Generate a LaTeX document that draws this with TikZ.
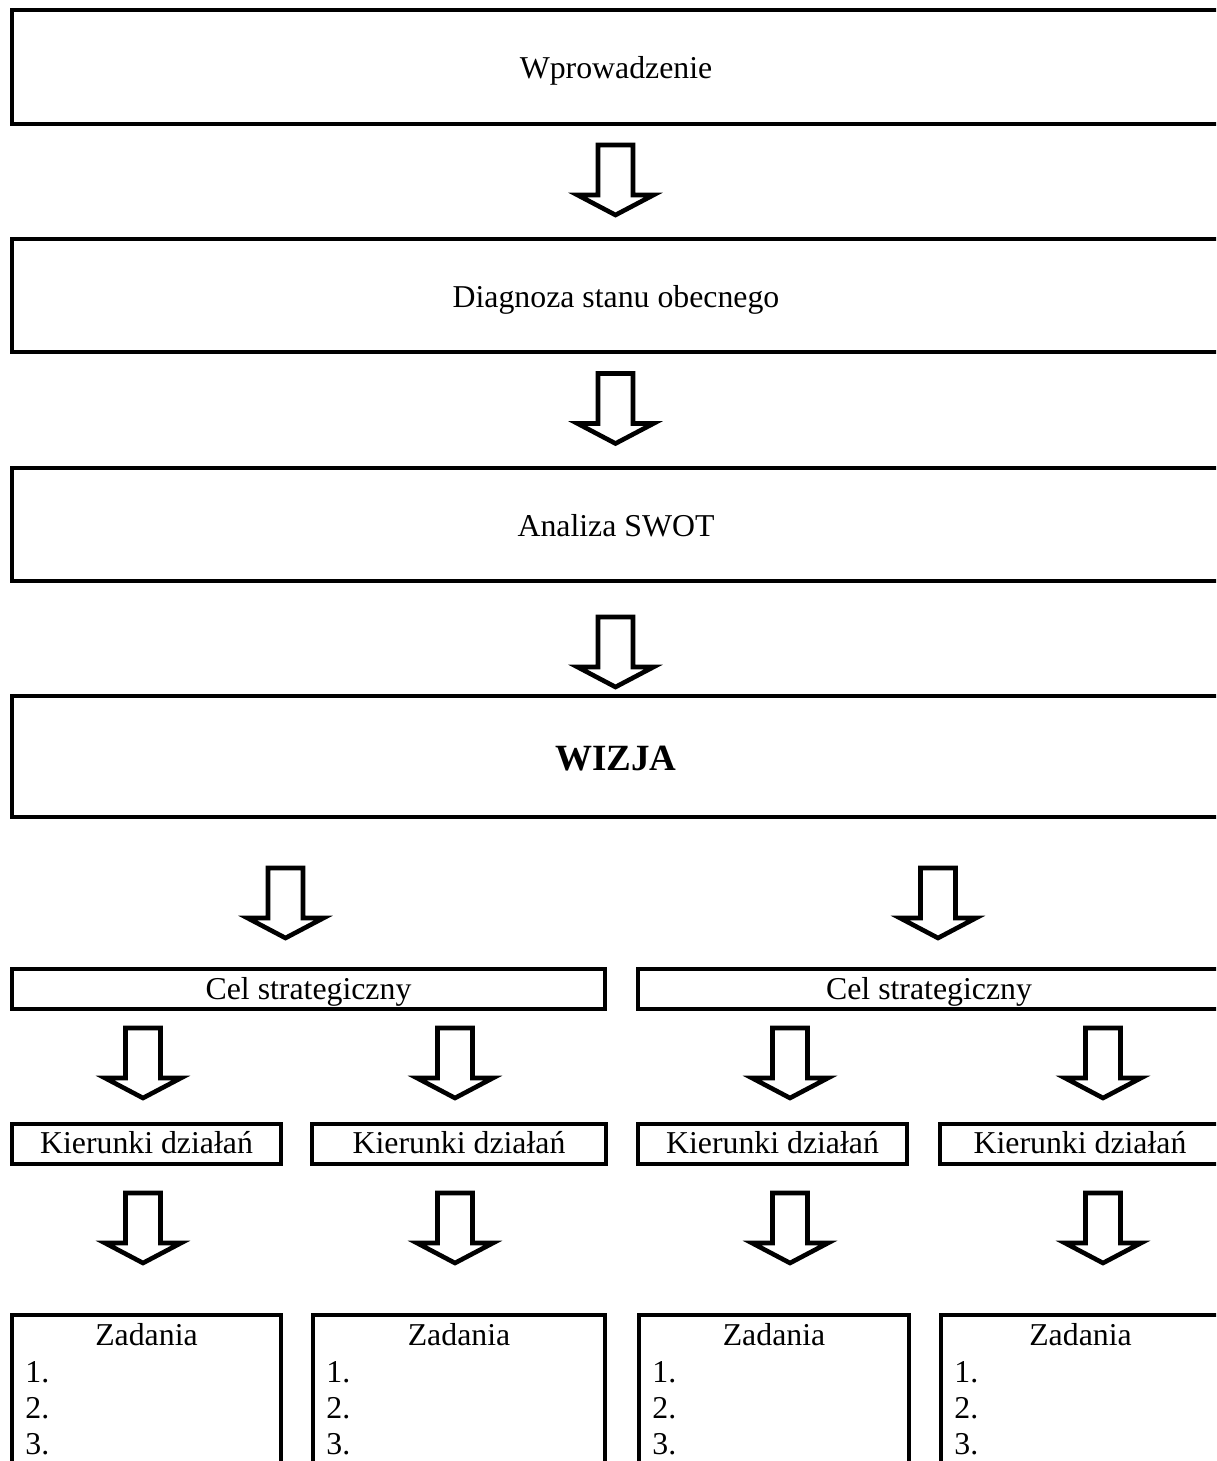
\documentclass[tikz,border=0pt]{standalone}
\usepackage{fontspec}
\setmainfont{Liberation Serif}
\usetikzlibrary{calc}
\begin{document}
\begin{tikzpicture}[x=0.5pt,y=-0.5pt,
  boxline/.style={draw=black, line width=2pt, line join=miter},
  basebox/.style={boxline, inner sep=0pt, outer sep=0pt, text depth=0pt,
    font=\fontsize{15.9pt}{19pt}\selectfont},
  bigbox/.style={basebox, minimum width=604pt, text height=12pt},
  celbox/.style={basebox, minimum height=20pt, text height=10pt},
  kbox/.style={basebox, minimum height=20pt, text height=9pt},
  zbox/.style={basebox, minimum height=82.5pt},
  ztxt/.style={inner sep=0pt, font=\fontsize{15.9pt}{19pt}\selectfont},
  arrowline/.style={draw=black, fill=white, line width=2.3pt, line join=miter},
  barrow/.pic={\path[arrowline] (-17.5,0) -- (17.5,0) -- (17.5,50) -- (38,50) -- (0,70) -- (-38,50) -- (-17.5,50) -- cycle;}
]
\useasboundingbox (0,0) rectangle (1216,1461);
\clip (0,0) rectangle (1216,1461);

% main boxes
\node[bigbox, minimum height=57pt] (b1) at (616,67) {Wprowadzenie};
\node[bigbox, minimum height=56.5pt] (b2) at (616,295.5) {Diagnoza stanu obecnego};
\node[bigbox, minimum height=56.5pt] (b3) at (616,524.5) {Analiza SWOT};
\node[bigbox, minimum height=60.5pt, text height=14pt,
      font=\fontsize{18.5pt}{22pt}\selectfont\bfseries] (b4) at (616,756.5) {WIZJA};

% strategic goals
\node[celbox, minimum width=296.5pt] (c1) at (308.5,989) {Cel strategiczny};
\node[celbox, minimum width=291pt] (c2) at (929,989) {Cel strategiczny};

% directions
\node[kbox, minimum width=134.5pt] (k1) at (146.5,1144) {Kierunki działań};
\node[kbox, minimum width=147pt] (k2) at (459,1144) {Kierunki działań};
\node[kbox, minimum width=134.5pt] (k3) at (772.5,1144) {Kierunki działań};
\node[kbox, minimum width=140pt] (k4) at (1080,1144) {Kierunki działań};

% tasks
\node[zbox, minimum width=134.5pt] (z1) at (146.5,1397.5) {};
\node[zbox, minimum width=146pt] (z2) at (459,1397.5) {};
\node[zbox, minimum width=135pt] (z3) at (774,1397.5) {};
\node[zbox, minimum width=139.5pt] (z4) at (1080.5,1397.5) {};
\foreach \z in {z1,z2,z3,z4}{
  \node[ztxt, anchor=base] (\z t) at ($(\z.north)+(0,30)$) {Zadania};
  \node[ztxt, anchor=base west] (\z a) at ($(\z.north west)+(13,67)$) {1.};
  \node[ztxt, anchor=base west] (\z b) at ($(\z.north west)+(13,103)$) {2.};
  \node[ztxt, anchor=base west] (\z c) at ($(\z.north west)+(13,139)$) {3.};
}

% block arrows
\pic at ($(b1.south)+(-0.5,21)$) {barrow};
\pic at ($(b2.south)+(-0.5,21.5)$) {barrow};
\pic at ($(b3.south)+(-0.5,36)$) {barrow};
\pic at (285.5,868) {barrow};
\pic at (938,868) {barrow};
\foreach \cx in {143,455,790,1103}{
  \pic at (\cx,1028) {barrow};
  \pic at (\cx,1193) {barrow};
}
\end{tikzpicture}
\end{document}
